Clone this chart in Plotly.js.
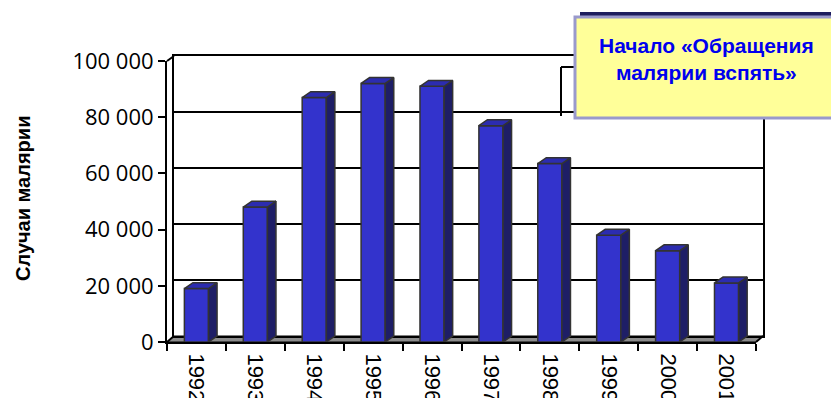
<!DOCTYPE html>
<html>
<head>
<meta charset="utf-8">
<script src="https://cdn.plot.ly/plotly-3.0.1.min.js"></script>
<style>html,body{margin:0;padding:0;background:#fff;}#chart{width:831px;height:398px;}</style>
</head>
<body>
<div id="chart"></div>
<script>
// ---- data ----
const years = ['1992','1993','1994','1995','1996','1997','1998','1999','2000','2001'];
const cases = [19000, 48000, 87000, 92000, 91000, 77000, 63500, 38000, 32500, 21000];
const yTickVals = [0, 20000, 40000, 60000, 80000, 100000];
const yTickText = ['0', '20 000', '40 000', '60 000', '80 000', '100 000'];
const yTitle = 'Случаи малярии';
const calloutText = 'Начало «Обращения<br>малярии вспять»';

// ---- style ----
const W = 831, H = 398;
const BAR_W = 0.41, DX = 0.145, DY = 2100;
const FRONT = '#3333CC', SIDE = '#1E1E66', TOP = '#2C2CB0', EDGE = '#333333';
const px = x => x / W;
const py = y => 1 - y / H;
const idx = years.map((_, i) => i);

const traces = [];
// back wall subplot (needs a trace)
traces.push({type:'scatter', x:[0], y:[0], xaxis:'x', yaxis:'y', mode:'markers',
  marker:{opacity:0}, hoverinfo:'skip', showlegend:false});
// front faces
traces.push({type:'bar', x:idx, y:cases, xaxis:'x2', yaxis:'y2', width:BAR_W,
  marker:{color:FRONT, line:{color:EDGE, width:1.5}}, hoverinfo:'skip', showlegend:false});
// side + top faces computed from the data
idx.forEach((i) => {
  const v = cases[i];
  const r = i + BAR_W/2, l = i - BAR_W/2;
  traces.push({type:'scatter', xaxis:'x2', yaxis:'y2', mode:'lines', fill:'toself',
    x:[r, r+DX, r+DX, r, r], y:[0, DY, v+DY, v, 0],
    fillcolor:SIDE, line:{color:EDGE, width:1.5}, hoverinfo:'skip', showlegend:false});
  traces.push({type:'scatter', xaxis:'x2', yaxis:'y2', mode:'lines', fill:'toself',
    x:[l, r, r+DX, l+DX, l], y:[v, v, v+DY, v+DY, v],
    fillcolor:TOP, line:{color:EDGE, width:1.5}, hoverinfo:'skip', showlegend:false});
});

const line = (x0,y0,x1,y1,layer) => ({type:'line', xref:'paper', yref:'paper',
  x0:px(x0), y0:py(y0), x1:px(x1), y1:py(y1), line:{color:'#000', width:2}, layer:layer||'above'});
const path = (pts) => 'M' + pts.map(p => px(p[0]) + ',' + py(p[1])).join(' L') + ' Z';

const layout = {
  width: W, height: H, autosize:false,
  margin:{l:0, r:0, t:0, b:0},
  paper_bgcolor:'#fff', plot_bgcolor:'rgba(0,0,0,0)',
  showlegend:false,
  // back wall
  xaxis:{domain:[px(174), px(763)], range:[0,1], showline:true, mirror:true, linecolor:'#000', linewidth:2,
    showgrid:false, zeroline:false, showticklabels:false, ticks:'', anchor:'y', fixedrange:true},
  yaxis:{domain:[py(336), py(56)], range:[0,100000], showline:true, mirror:true, linecolor:'#000', linewidth:2,
    showgrid:true, gridcolor:'#000', gridwidth:2, dtick:20000, tick0:0, zeroline:false,
    showticklabels:false, ticks:'', anchor:'x', fixedrange:true},
  // front axes
  xaxis2:{domain:[px(167), px(756)], range:[-0.5, 9.5], anchor:'y2', showline:true, linecolor:'#000', linewidth:2,
    showgrid:false, zeroline:false, tickmode:'array', tickvals:idx, ticktext:years, tickangle:90,
    ticks:'outside', ticklen:5, tickcolor:'rgba(0,0,0,0)',
    minor:{tick0:-0.5, dtick:1, ticks:'outside', ticklen:7, tickwidth:2, tickcolor:'#000', showgrid:false},
    tickfont:{family:'Liberation Sans, Arial, sans-serif', size:22, color:'#000'}, fixedrange:true},
  yaxis2:{domain:[py(342), py(61)], range:[0, 100000], anchor:'x2', showline:true, linecolor:'#000', linewidth:2,
    showgrid:false, zeroline:false, tickmode:'array', tickvals:yTickVals, ticktext:yTickText,
    ticks:'outside', ticklen:7, tickwidth:2, tickcolor:'#000',
    tickfont:{family:'Open Sans, sans-serif', size:22, color:'#000'}, fixedrange:true},
  shapes:[
    // floor
    {type:'path', xref:'paper', yref:'paper', path:path([[167,342],[756,342],[763,336],[174,336]]),
      fillcolor:'#8c8c8c', line:{color:'#000', width:1}, layer:'below'},
    line(167,61,174,56,'below'),
    line(167,342,174,336,'below'),
    line(756,342,763,336,'below'),
    // callout leader
    line(593,67,561,67),
    line(561,67,561,116),
    // callout box shadow + box
    {type:'rect', xref:'paper', yref:'paper', x0:px(580), x1:px(845), y0:py(12), y1:py(112),
      fillcolor:'#1E1E5E', line:{width:0}, layer:'above'},
    {type:'rect', xref:'paper', yref:'paper', x0:px(575), x1:px(845), y0:py(17), y1:py(118),
      fillcolor:'#FFFF99', line:{color:'#9999CC', width:3}, layer:'above'}
  ],
  annotations:[
    {xref:'paper', yref:'paper', x:px(23), y:py(199), text:yTitle, textangle:-90, showarrow:false,
      xanchor:'center', yanchor:'middle',
      font:{family:'Liberation Sans, Arial, sans-serif', size:20, weight:'bold', color:'#000'}},
    {xref:'paper', yref:'paper', x:px(706), y:py(59), text:calloutText, showarrow:false,
      xanchor:'center', yanchor:'middle', align:'center',
      font:{family:'Liberation Sans, Arial, sans-serif', size:21, weight:'bold', color:'#0000EE'}}
  ]
};

Plotly.newPlot('chart', traces, layout, {displayModeBar:false, staticPlot:true});
</script>
</body>
</html>
